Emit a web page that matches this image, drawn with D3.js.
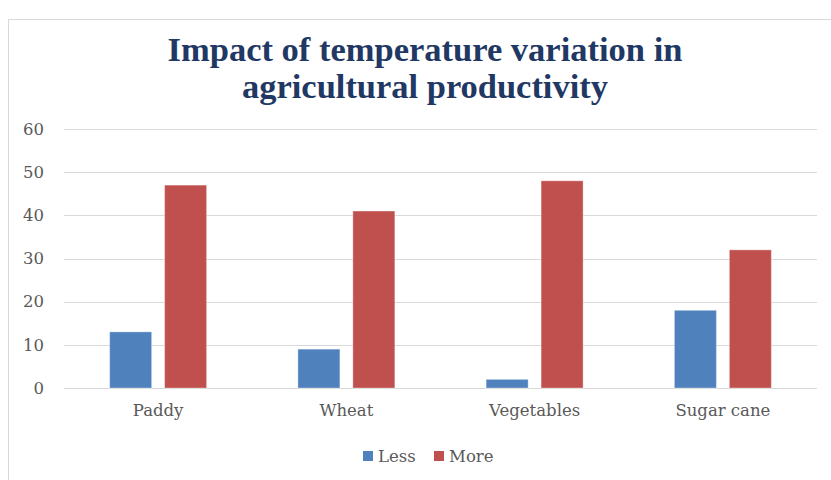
<!DOCTYPE html>
<html><head><meta charset="utf-8">
<script src="https://cdn.jsdelivr.net/npm/d3@7"></script>
<style>body{margin:0;background:#fff}</style>
</head><body>
<svg id="c" width="831" height="480"></svg>
<script>
const categories = ["Paddy", "Wheat", "Vegetables", "Sugar cane"];
const seriesNames = ["Less", "More"];
const lessValues = [13, 9, 2, 18];
const moreValues = [47, 41, 48, 32];
const yTicks = [0, 10, 20, 30, 40, 50, 60];
const colors = ["#4F81BD", "#C0504D"];
const titleLines = ["Impact of temperature variation in", "agricultural productivity"];

const svg = d3.select("#c");
const m = {left: 64, top: 129};
const plotW = 817 - 64, plotH = 388 - 129;

// outer border
svg.append("rect").attr("x", 8.5).attr("y", 19.5).attr("width", 840).attr("height", 470)
  .attr("fill", "none").attr("stroke", "#D9D9D9").attr("stroke-width", 1);

// title
const titleWidths = [515, 366];
const tg = svg.append("g");
titleLines.forEach((t, i) => {
  const tx = tg.append("text").attr("x", 425).attr("y", 61 + i * 37)
    .attr("text-anchor", "middle")
    .attr("font-family", "'Liberation Serif', serif").attr("font-weight", "bold")
    .attr("font-size", 30).attr("fill", "#1F3864").text(t);
  const w = tx.node().getComputedTextLength();
  tx.attr("font-size", 30 * titleWidths[i] / w);
});

const g = svg.append("g").attr("transform", `translate(${m.left},${m.top})`);
const y = d3.scaleLinear().domain([0, 60]).range([plotH, 0]);
const x0 = d3.scaleBand().domain(categories).range([0, plotW]).paddingInner(0.485).paddingOuter(0.2425);
const x1 = d3.scaleBand().domain(seriesNames).range([0, x0.bandwidth()]).paddingInner(0.236).paddingOuter(0);

// gridlines
g.append("g").selectAll("line").data(yTicks).join("line")
  .attr("x1", 0).attr("x2", plotW)
  .attr("y1", d => Math.round(y(d)) + 0.5).attr("y2", d => Math.round(y(d)) + 0.5)
  .attr("stroke", "#D9D9D9").attr("stroke-width", 1);

// y axis labels
const yAxis = d3.axisLeft(y).tickValues(yTicks).tickSize(0).tickPadding(20);
const ya = g.append("g").call(yAxis);
ya.select(".domain").remove();
ya.selectAll("text").attr("font-family", "'DejaVu Serif', serif").attr("font-size", 16.5).attr("fill", "#595959");

// bars
const data = categories.map((c, i) => ({cat: c, vals: [lessValues[i], moreValues[i]]}));
const grp = g.selectAll(".grp").data(data).join("g").attr("transform", d => `translate(${x0(d.cat)},0)`);
grp.selectAll("rect").data(d => d.vals.map((v, j) => ({s: seriesNames[j], v, j}))).join("rect")
  .attr("x", d => x1(d.s)).attr("width", x1.bandwidth())
  .attr("y", d => y(d.v)).attr("height", d => y(0) - y(d.v))
  .attr("fill", d => colors[d.j]).attr("stroke", "#fff").attr("stroke-opacity", 0.35).attr("stroke-width", 1);

// x axis labels
const xAxis = d3.axisBottom(x0).tickSize(0).tickPadding(16);
const xa = g.append("g").attr("transform", `translate(0,${plotH})`).call(xAxis);
xa.select(".domain").remove();
xa.selectAll("text").attr("font-family", "'DejaVu Serif', serif").attr("font-size", 16.5).attr("fill", "#595959");

// legend
const legX = [363, 434];
const lg = svg.append("g");
seriesNames.forEach((s, i) => {
  lg.append("rect").attr("x", legX[i]).attr("y", 451).attr("width", 10).attr("height", 10).attr("fill", colors[i]);
  lg.append("text").attr("x", legX[i] + 15).attr("y", 462).attr("font-family", "'DejaVu Serif', serif")
    .attr("font-size", 16.5).attr("fill", "#595959").text(s);
});
</script>
</body></html>
